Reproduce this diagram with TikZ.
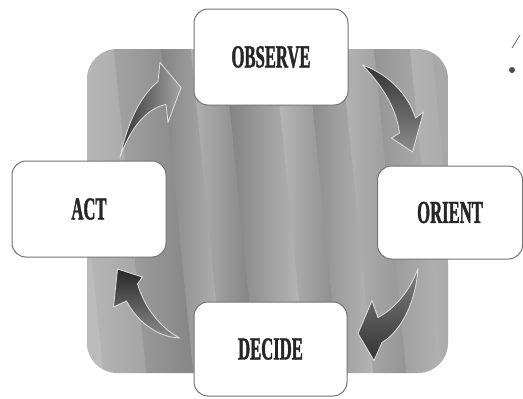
\documentclass[tikz,border=0pt]{standalone}
\usepackage{fontspec}
\newfontfamily\labelfont[FakeStretch=0.52, FakeBold=1.2]{Liberation Serif Bold}
\begin{document}
\begin{tikzpicture}[x=1pt,y=-1pt,
  stage/.style={draw=black!55, line width=1pt, fill=white, rounded corners=14pt,
    font=\labelfont\fontsize{32}{32}\selectfont, text=black!85},
  fatarrow/.style={draw=white!85!black, line width=0.9pt, line join=round}]
\useasboundingbox (0,0) rectangle (523,399);
\fill[white] (0,0) rectangle (523,399);
% mottled panel behind the loop, soft slanted bands
\begin{scope}
\clip[rounded corners=30pt] (87,49) rectangle (448,373);
\begin{scope}[xslant=-0.1]
\foreach \xa/\ca/\xb/\cb in {20/30/66/26, 66/26/109/36, 109/36/156/48, 156/48/186/30, 186/30/219/50, 219/50/269/27,
    269/27/302/46, 302/46/336/29, 336/29/369/42, 369/42/405/30, 405/30/427/34, 427/34/500/34}
  \shade[left color=black!\ca, right color=black!\cb] (\xa,40) rectangle (\xb+0.6,380);
\end{scope}
\end{scope}
% the four stages
\node[stage, minimum width=154pt, minimum height=96pt] (observe) at (271,57) {OBSERVE};
\node[stage, minimum width=154pt, minimum height=96pt] (act) at (89,209) {ACT};
\node[stage, minimum width=145pt, minimum height=93pt] (orient) at (450,212.5) {ORIENT};
\node[stage, minimum width=153pt, minimum height=94pt] (decide) at (270.5,349) {DECIDE};
% curved arrows, act -> observe -> orient -> decide -> act
\begin{scope}[shift={(act.north)}]
\shadedraw[fatarrow, left color=black!80, right color=black!35]
  (31,-3) .. controls (39,-41) and (53,-66) .. (69,-79) -- (71,-98) -- (92,-73) -- (79,-38) -- (77,-56)
  .. controls (59,-53) and (41,-33) .. cycle;
\end{scope}
\begin{scope}[shift={(observe.east)}]
\shadedraw[fatarrow, top color=black!80, bottom color=black!45]
  (14,8) .. controls (40,17) and (60,38) .. (67,61) -- (75,55) -- (64,95) -- (43,81) -- (51,76)
  .. controls (48,53) and (36,31) .. cycle;
\end{scope}
\begin{scope}[shift={(orient.south)}]
\shadedraw[fatarrow, top color=black!50, bottom color=black!80]
  (-32,9) .. controls (-34,41) and (-48,71) .. (-68,83) -- (-76,101) -- (-92,74) -- (-78,41) -- (-72,58)
  .. controls (-55,49) and (-40,31) .. cycle;
\end{scope}
\begin{scope}[shift={(decide.west)}]
\shadedraw[fatarrow, top color=black!85, bottom color=black!45]
  (-14,-11) .. controls (-32,-21) and (-48,-39) .. (-56,-65) -- (-51,-72) -- (-76,-80) -- (-80,-42) -- (-67,-48)
  .. controls (-56,-27) and (-36,-12) .. cycle;
\end{scope}
% stray mark, top right
\draw[black!60, line width=0.8pt] (512,48) -- (520,35);
\fill[black!70] (512,70) circle (3pt);
\end{tikzpicture}
\end{document}
